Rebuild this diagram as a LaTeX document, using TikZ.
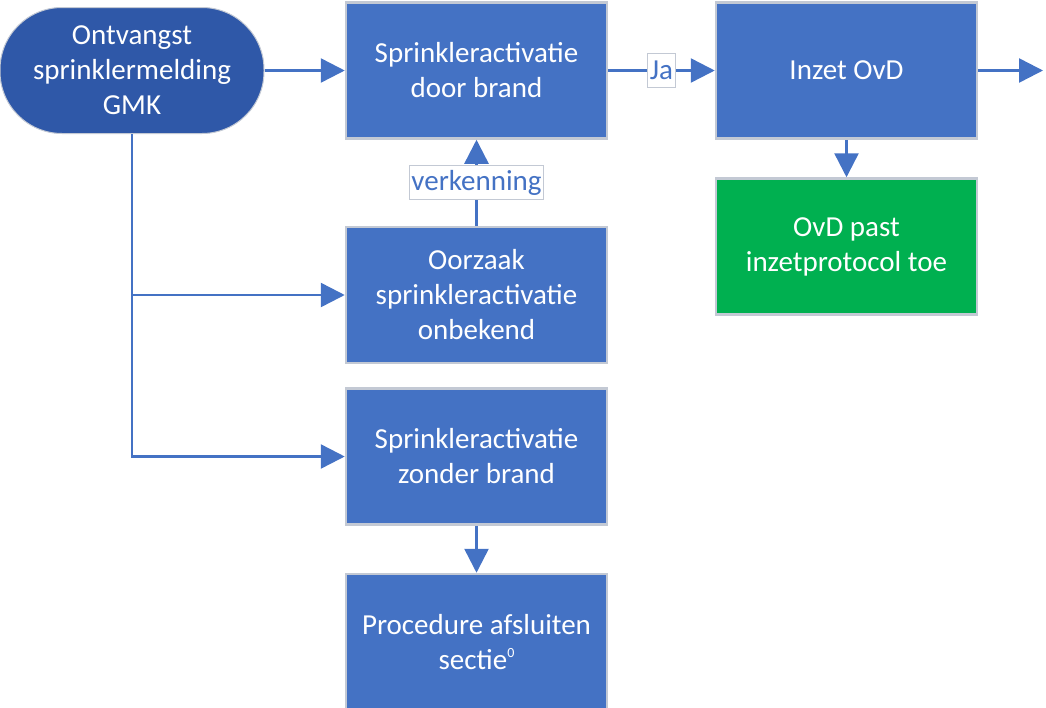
\documentclass[tikz,border=0pt]{standalone}
\usepackage{fontspec}
\setmainfont{Carlito}
\usetikzlibrary{arrows.meta}
\definecolor{boxblue}{HTML}{4472C4}
\definecolor{darkblue}{HTML}{2F58A8}
\definecolor{boxgreen}{HTML}{00B050}
\definecolor{edgegray}{HTML}{C3C9D4}
\begin{document}
\begin{tikzpicture}[x=1pt,y=-1pt,
  txt/.style={font=\fontsize{29}{35}\selectfont, text=white, align=center, inner sep=0pt},
  proc/.style={txt, rectangle, fill=boxblue, draw=edgegray, line width=2.5pt, minimum width=261pt, minimum height=136pt},
  greenbox/.style={proc, fill=boxgreen},
  startbox/.style={txt, rectangle, rounded corners=62pt, fill=darkblue, draw=edgegray, line width=1pt, minimum width=264pt, minimum height=126pt},
  conn/.style={draw=boxblue, line width=2.5pt, -{Triangle[length=24pt,width=24pt]}},
  lbl/.style={font=\fontsize{29}{35}\selectfont, text=boxblue, fill=white, draw=edgegray, line width=1pt, inner sep=2pt, minimum height=34pt}
]
\useasboundingbox (0,0) rectangle (1046,707);

\node[startbox] (start) at (132,70.5) {Ontvangst\\sprinklermelding\\GMK};
\node[proc] (brand) at (476.5,70.5) {Sprinkleractivatie\\door brand};
\node[proc] (inzet) at (846.5,70.5) {Inzet OvD};
\node[greenbox] (ovd) at (846.5,246.5) {OvD past\\inzetprotocol toe};
\node[proc] (oorz) at (476.5,295) {Oorzaak\\sprinkleractivatie\\onbekend};
\node[proc] (zond) at (476.5,456.5) {Sprinkleractivatie\\zonder brand};
\node[proc] (afsl) at (476.5,642) {Procedure afsluiten\\sectie\raisebox{12pt}{\fontsize{14}{14}\selectfont 0}};
\coordinate (out) at (1043,70.5);

\draw[conn] (start.east) -- (brand.west);
\draw[conn] (brand.east) -- node[lbl]{Ja} (inzet.west);
\draw[conn] (inzet.east) -- (out);
\draw[conn] (inzet.south) -- (ovd.north);
\draw[conn] (oorz.north) -- node[lbl]{verkenning} (brand.south);
\draw[conn] (start.south) |- (oorz.west);
\draw[conn] (start.south) |- (zond.west);
\draw[conn] (zond.south) -- (afsl.north);
\end{tikzpicture}
\end{document}
